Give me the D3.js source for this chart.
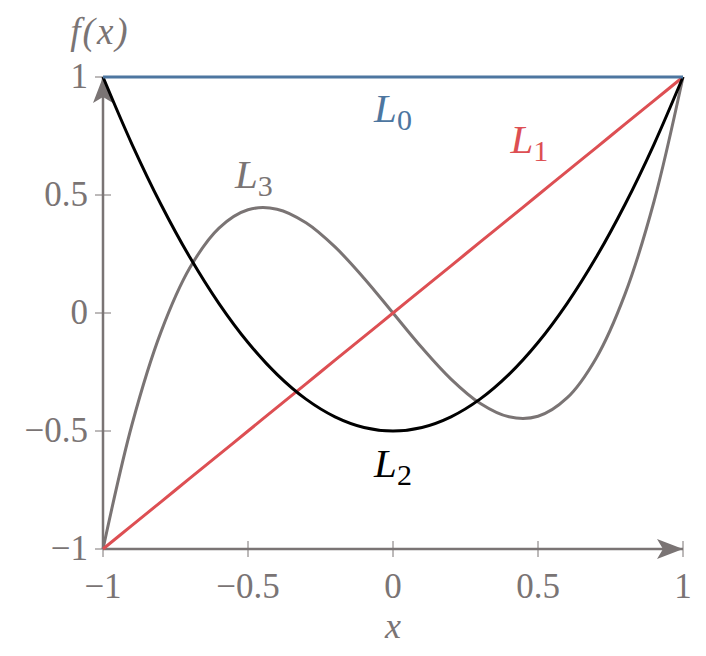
<!DOCTYPE html>
<html>
<meta charset="utf-8">
<style>
  body {margin:0; background:#fff;}
  text {font-family:"Liberation Serif", "DejaVu Serif", serif;}
</style>
<body>
<svg id="chart" width="706" height="656"></svg>
<script src="https://cdn.jsdelivr.net/npm/d3@7"></script>
<script>
// sample points
var xs = [-1,-0.9,-0.8,-0.7,-0.6,-0.5,-0.4,-0.3,-0.2,-0.1,0,0.1,0.2,0.3,0.4,0.5,0.6,0.7,0.8,0.9,1];
var L0 = [1,1,1,1,1,1,1,1,1,1,1,1,1,1,1,1,1,1,1,1,1];
var L1 = [-1,-0.9,-0.8,-0.7,-0.6,-0.5,-0.4,-0.3,-0.2,-0.1,0,0.1,0.2,0.3,0.4,0.5,0.6,0.7,0.8,0.9,1];
var L2 = [1,0.715,0.46,0.235,0.04,-0.125,-0.26,-0.365,-0.44,-0.485,-0.5,-0.485,-0.44,-0.365,-0.26,-0.125,0.04,0.235,0.46,0.715,1];
var L3 = [-1,-0.4725,-0.08,0.1925,0.36,0.4375,0.44,0.3825,0.28,0.1475,0,-0.1475,-0.28,-0.3825,-0.44,-0.4375,-0.36,-0.1925,0.08,0.4725,1];
var xTicks = [-1,-0.5,0,0.5,1];
var yTicks = [-1,-0.5,0,0.5,1];

var series = [
  {name:"L", sub:"3", ys:L3, color:"#7a7474", lx:-0.48, ly:0.53},
  {name:"L", sub:"1", ys:L1, color:"#dd4f53", lx:0.47, ly:0.68},
  {name:"L", sub:"2", ys:L2, color:"#000000", lx:0, ly:-0.695},
  {name:"L", sub:"0", ys:L0, color:"#4d76a0", lx:0, ly:0.81}
];

var axisColor = "#7a7474";
var svg = d3.select("#chart");
var x = d3.scaleLinear().domain([-1,1]).range([103,683]);
var y = d3.scaleLinear().domain([-1,1]).range([549,77]);

var defs = svg.append("defs");
defs.append("marker").attr("id","arr")
  .attr("viewBox","0 0 26 20").attr("refX",26).attr("refY",10)
  .attr("markerWidth",26).attr("markerHeight",20).attr("markerUnits","userSpaceOnUse")
  .attr("orient","auto")
  .append("path").attr("d","M0,0 L26,10 L0,20 L6,10 Z").attr("fill",axisColor);

var fmt = function(d) { return d < 0 ? "\u2212" + Math.abs(d) : String(d); };

// ticks
var g = svg.append("g");
g.selectAll(".xt").data(xTicks).enter().append("line")
  .attr("x1",function(d){return x(d)}).attr("x2",function(d){return x(d)})
  .attr("y1",y(-1)-8).attr("y2",y(-1)+8)
  .attr("stroke",axisColor).attr("stroke-width",1);
g.selectAll(".yt").data(yTicks).enter().append("line")
  .attr("y1",function(d){return y(d)}).attr("y2",function(d){return y(d)})
  .attr("x1",x(-1)-8).attr("x2",x(-1)+8)
  .attr("stroke",axisColor).attr("stroke-width",1);

g.selectAll(".xl").data(xTicks).enter().append("text")
  .attr("x",function(d){return x(d)}).attr("y",y(-1)+49)
  .attr("text-anchor","middle").style("font-size","35px").attr("fill",axisColor)
  .text(fmt);
g.selectAll(".yl").data(yTicks).enter().append("text")
  .attr("x",x(-1)-15).attr("y",function(d){return y(d)+11})
  .attr("text-anchor","end").style("font-size","35px").attr("fill",axisColor)
  .text(fmt);

// axes with arrows
svg.append("line").attr("x1",x(-1)).attr("y1",y(-1)).attr("x2",x(1)).attr("y2",y(-1))
  .attr("stroke",axisColor).attr("stroke-width",2.5).attr("marker-end","url(#arr)");
svg.append("line").attr("x1",x(-1)).attr("y1",y(-1)).attr("x2",x(-1)).attr("y2",y(1))
  .attr("stroke",axisColor).attr("stroke-width",2.5).attr("marker-end","url(#arr)");

svg.append("text").attr("x",x(-1)-3).attr("y",44).attr("text-anchor","middle")
  .style("font-size","37px").style("letter-spacing","2px").attr("font-style","italic")
  .attr("fill",axisColor).text("f(x)");
svg.append("text").attr("x",x(0)).attr("y",638).attr("text-anchor","middle")
  .style("font-size","36px").attr("font-style","italic").attr("fill",axisColor).text("x");

// curves
var line = d3.line()
  .x(function(d){return x(d[0])})
  .y(function(d){return y(d[1])})
  .curve(d3.curveCatmullRom.alpha(0.5));

svg.selectAll(".curve").data(series).enter().append("path")
  .attr("d",function(s){return line(xs.map(function(v,i){return [v,s.ys[i]]}))})
  .attr("fill","none").attr("stroke",function(s){return s.color})
  .attr("stroke-width",3);

// labels
var lab = svg.selectAll(".lab").data(series).enter().append("text")
  .attr("x",function(s){return x(s.lx)}).attr("y",function(s){return y(s.ly)})
  .attr("text-anchor","middle").style("font-size","41px")
  .attr("fill",function(s){return s.color});
lab.append("tspan").attr("font-style","italic").text(function(s){return s.name});
lab.append("tspan").style("font-size","30px").attr("dy",8).text(function(s){return s.sub});
</script>
</body>
</html>
